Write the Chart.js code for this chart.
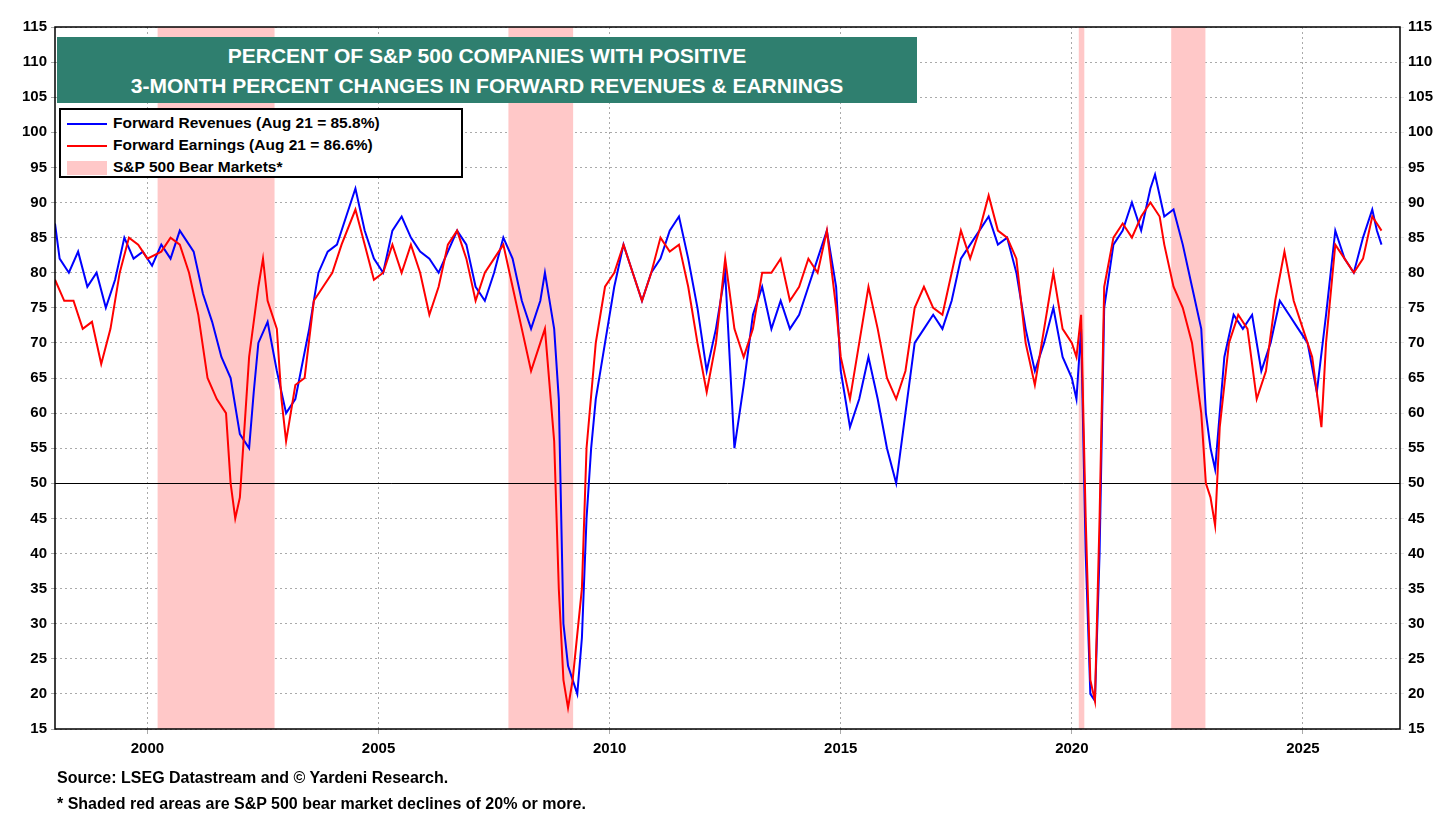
<!DOCTYPE html>
<html>
<head>
<meta charset="utf-8">
<script src="https://cdn.jsdelivr.net/npm/chart.js@4.4.1/dist/chart.umd.min.js"></script>
<style>
  body { margin:0; background:#fff; font-family:Arial, "Liberation Sans", sans-serif; }
  #wrap { position:relative; width:1456px; height:819px; }
  #title { position:absolute; left:57px; top:37px; width:860px; height:66px; background:#2f7f6f; color:#fff;
    font-weight:bold; font-size:21px; text-align:center; line-height:30px; padding-top:4px; box-sizing:border-box; }
  #legend { position:absolute; left:59px; top:108px; width:404px; height:70px; background:#fff; border:2px solid #000;
    box-sizing:border-box; font-size:15.5px; font-weight:bold; padding:2px 6px; line-height:22px; }
  #legend .sw { display:inline-block; width:40px; vertical-align:middle; margin-right:6px; }
  .foot { position:absolute; left:57px; font-size:16px; font-weight:bold; }
</style>
</head>
<body>
<div id="wrap">
  <canvas id="c" width="1456" height="819"></canvas>
  <div id="title">PERCENT OF S&amp;P 500 COMPANIES WITH POSITIVE<br>3-MONTH PERCENT CHANGES IN FORWARD REVENUES &amp; EARNINGS</div>
  <div id="legend">
    <div><span class="sw" style="border-top:2px solid #0000ff"></span>Forward Revenues (Aug 21 = 85.8%)</div>
    <div><span class="sw" style="border-top:2px solid #ff0000"></span>Forward Earnings (Aug 21 = 86.6%)</div>
    <div><span class="sw" style="height:14px;background:#ffc8c8"></span>S&amp;P 500 Bear Markets*</div>
  </div>
  <div class="foot" style="top:769px">Source: LSEG Datastream and © Yardeni Research.</div>
  <div class="foot" style="top:795px">* Shaded red areas are S&amp;P 500 bear market declines of 20% or more.</div>
</div>
<script>
// Forward revenues (blue), [year, percent]
const revYears = [1998.0,1998.1,1998.3,1998.5,1998.7,1998.9,1999.1,1999.3,1999.5,1999.7,1999.9,2000.1,2000.3,2000.5,2000.7,2000.9,2001.0,2001.2,2001.4,2001.6,2001.8,2002.0,2002.2,2002.3,2002.4,2002.6,2002.8,2003.0,2003.2,2003.5,2003.7,2003.9,2004.1,2004.3,2004.5,2004.7,2004.9,2005.1,2005.3,2005.5,2005.7,2005.9,2006.1,2006.3,2006.5,2006.7,2006.9,2007.1,2007.3,2007.5,2007.7,2007.9,2008.1,2008.3,2008.5,2008.6,2008.8,2008.9,2009.0,2009.1,2009.3,2009.4,2009.5,2009.6,2009.7,2009.9,2010.1,2010.3,2010.5,2010.7,2010.9,2011.1,2011.3,2011.5,2011.7,2011.9,2012.1,2012.3,2012.5,2012.7,2012.9,2013.1,2013.3,2013.5,2013.7,2013.9,2014.1,2014.3,2014.5,2014.7,2014.9,2015.0,2015.2,2015.4,2015.6,2015.8,2016.0,2016.2,2016.4,2016.6,2016.8,2017.0,2017.2,2017.4,2017.6,2017.8,2018.0,2018.2,2018.4,2018.6,2018.8,2019.0,2019.2,2019.4,2019.6,2019.8,2020.0,2020.1,2020.2,2020.3,2020.4,2020.5,2020.6,2020.7,2020.9,2021.1,2021.3,2021.5,2021.7,2021.8,2022.0,2022.2,2022.4,2022.6,2022.8,2022.9,2023.0,2023.1,2023.3,2023.5,2023.7,2023.9,2024.1,2024.3,2024.5,2024.7,2024.9,2025.1,2025.3,2025.5,2025.7,2025.9,2026.1,2026.3,2026.5,2026.6,2026.7];
const revValues = [87,82,80,83,78,80,75,79,85,82,83,81,84,82,86,84,83,77,73,68,65,57,55,63,70,73,66,60,62,72,80,83,84,88,92,86,82,80,86,88,85,83,82,80,83,86,84,78,76,80,85,82,76,72,76,80,72,62,30,24,20,28,45,55,62,70,78,84,80,76,80,82,86,88,82,75,66,72,80,55,64,74,78,72,76,72,74,78,82,86,78,66,58,62,68,62,55,50,60,70,72,74,72,76,82,84,86,88,84,85,80,72,66,70,75,68,65,62,72,40,20,19,40,75,84,86,90,86,92,94,88,89,84,78,72,60,55,52,68,74,72,74,66,70,76,74,72,70,63,74,86,82,80,85,89,86,84];
// Forward earnings (red)
const earnYears = [1998.0,1998.2,1998.4,1998.6,1998.8,1999.0,1999.2,1999.4,1999.6,1999.8,2000.0,2000.3,2000.5,2000.7,2000.9,2001.1,2001.3,2001.5,2001.7,2001.8,2001.9,2002.0,2002.2,2002.4,2002.5,2002.6,2002.8,2002.9,2003.0,2003.2,2003.4,2003.6,2003.8,2004.0,2004.2,2004.5,2004.7,2004.9,2005.1,2005.3,2005.5,2005.7,2005.9,2006.1,2006.3,2006.5,2006.7,2006.9,2007.1,2007.3,2007.5,2007.7,2007.9,2008.1,2008.3,2008.5,2008.6,2008.8,2008.9,2009.0,2009.1,2009.2,2009.4,2009.5,2009.7,2009.9,2010.1,2010.3,2010.5,2010.7,2010.9,2011.1,2011.3,2011.5,2011.7,2011.9,2012.1,2012.3,2012.5,2012.7,2012.9,2013.1,2013.3,2013.5,2013.7,2013.9,2014.1,2014.3,2014.5,2014.7,2014.9,2015.0,2015.2,2015.4,2015.6,2015.8,2016.0,2016.2,2016.4,2016.6,2016.8,2017.0,2017.2,2017.4,2017.6,2017.8,2018.0,2018.2,2018.4,2018.6,2018.8,2019.0,2019.2,2019.4,2019.6,2019.8,2020.0,2020.1,2020.2,2020.3,2020.4,2020.5,2020.6,2020.7,2020.9,2021.1,2021.3,2021.5,2021.7,2021.9,2022.0,2022.2,2022.4,2022.6,2022.8,2022.9,2023.0,2023.1,2023.2,2023.4,2023.6,2023.8,2024.0,2024.2,2024.4,2024.6,2024.8,2025.0,2025.2,2025.4,2025.5,2025.7,2025.9,2026.1,2026.3,2026.5,2026.6,2026.7];
const earnValues = [79,76,76,72,73,67,72,80,85,84,82,83,85,84,80,74,65,62,60,50,45,48,68,78,82,76,72,62,56,64,65,76,78,80,84,89,84,79,80,84,80,84,80,74,78,84,86,82,76,80,82,84,78,72,66,70,72,56,35,22,18,22,35,55,70,78,80,84,80,76,80,85,83,84,78,70,63,70,82,72,68,72,80,80,82,76,78,82,80,86,75,68,62,70,78,72,65,62,66,75,78,75,74,80,86,82,86,91,86,85,82,70,64,72,80,72,70,68,74,45,22,19,45,78,85,87,85,88,90,88,84,78,75,70,60,50,48,44,58,70,74,72,62,66,76,83,76,72,68,58,70,84,82,80,82,88,87,86];
// Bear market periods [start, end]
const bearStart = [2000.22, 2007.81, 2020.15, 2022.15];
const bearEnd   = [2002.75, 2009.21, 2020.27, 2022.89];
const yTicks = [15,20,25,30,35,40,45,50,55,60,65,70,75,80,85,90,95,100,105,110,115];
const xTicks = [2000, 2005, 2010, 2015, 2020, 2025];
const refLine = 50;

const toPts = (xs, ys) => xs.map((x, i) => ({ x: x, y: ys[i] }));

const bearPlugin = {
  id: 'bear',
  beforeDatasetsDraw(chart) {
    const { ctx, chartArea: a, scales: { x, y } } = chart;
    ctx.save();
    ctx.fillStyle = '#ffc8c8';
    bearStart.forEach((s, i) => {
      const x0 = x.getPixelForValue(s), x1 = x.getPixelForValue(bearEnd[i]);
      ctx.fillRect(x0, a.top, x1 - x0, a.bottom - a.top);
    });
    // solid reference line at 50
    const y50 = Math.round(y.getPixelForValue(refLine)) + 0.5;
    ctx.strokeStyle = '#000'; ctx.lineWidth = 1;
    ctx.beginPath(); ctx.moveTo(a.left, y50); ctx.lineTo(a.right, y50); ctx.stroke();
    ctx.restore();
  },
  afterDraw(chart) {
    const { ctx, chartArea: a } = chart;
    ctx.save();
    ctx.strokeStyle = '#000'; ctx.lineWidth = 1.5;
    ctx.strokeRect(a.left, a.top, a.right - a.left, a.bottom - a.top);
    ctx.restore();
  }
};

const tickFont = { family: 'Arial, "Liberation Sans"', size: 15, weight: 'bold' };
const yCommon = {
  type: 'linear', min: 15, max: 115,
  afterBuildTicks: s => { s.ticks = yTicks.map(v => ({ value: v })); },
  ticks: { color: '#000', font: tickFont, padding: 4 },
  border: { display: false, dash: [2, 3] },
};

new Chart(document.getElementById('c'), {
  type: 'line',
  data: {
    datasets: [
      { label: 'Forward Earnings', data: toPts(earnYears, earnValues), borderColor: '#ff0000', borderWidth: 2, pointRadius: 0, tension: 0 },
      { label: 'Forward Revenues', data: toPts(revYears, revValues), borderColor: '#0000ff', borderWidth: 2, pointRadius: 0, tension: 0 },
    ]
  },
  options: {
    responsive: false, animation: false,
    layout: { padding: { top: 27, bottom: 0, left: 0, right: 0 } },
    plugins: { legend: { display: false }, tooltip: { enabled: false } },
    scales: {
      x: {
        type: 'linear', min: 1998.0, max: 2027.1,
        afterBuildTicks: s => { s.ticks = xTicks.map(v => ({ value: v })); },
        afterFit: s => { s.height = 90; },
        ticks: { color: '#000', font: tickFont, callback: v => String(v), padding: 6 },
        grid: { color: '#aaa', tickLength: 5 },
        border: { display: false, dash: [2, 3] },
      },
      y: Object.assign({}, yCommon, {
        position: 'left',
        afterFit: s => { s.width = 55; },
        grid: { color: '#aaa', lineWidth: 1, tickLength: 4 },
      }),
      y2: Object.assign({}, yCommon, {
        position: 'right',
        afterFit: s => { s.width = 56; },
        grid: { drawOnChartArea: false, tickLength: 4 },
        ticks: { color: '#000', font: tickFont, padding: 4 },
      }),
    }
  },
  plugins: [bearPlugin]
});
</script>
</body>
</html>
